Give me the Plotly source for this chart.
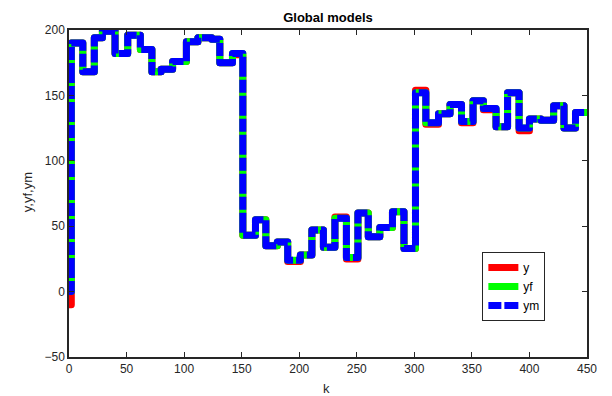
import plotly.graph_objects as go

# Switch instants (k) and levels held from each instant on
k_sw = [0, 2, 12, 22, 29, 40, 51, 62, 72, 80, 90, 102, 112, 124, 131, 142,
        151, 162, 171, 181, 190, 201, 211, 221, 231, 241, 251, 260, 270, 281, 291,
        301, 310, 321, 331, 341, 351, 360, 371, 381, 391, 400, 410, 421, 430, 440, 450]

ym = [0, 190, 168, 194, 199, 182, 196, 185, 168, 170, 176, 191, 194, 193, 175, 182,
      43, 55, 35, 38, 24, 28, 47, 34, 56, 26, 60, 42, 49, 61, 33,
      152, 129, 136, 143, 130, 146, 140, 126, 152, 125, 132, 131, 142, 125, 137, 137]

yf = [0, 190, 168, 194, 199, 182, 196, 185, 168, 170, 176, 191, 194, 193, 175, 182,
      43, 55, 35, 38, 24, 28, 47, 34, 56, 26, 60, 42, 49, 61, 33,
      152, 129, 136, 143, 130, 146, 140, 126, 152, 125, 132, 131, 142, 125, 137, 137]

y_meas = [-10, 190, 168, 194, 199, 182, 196, 185, 168, 170, 176, 191, 194, 193, 175, 181,
          43, 55, 35, 38, 23, 28, 47, 34, 57, 25, 60, 42, 49, 61, 33,
          154, 128, 136, 143, 129, 146, 139, 126, 152, 123, 132, 131, 142, 125, 137, 137]

x_ticks = [0, 50, 100, 150, 200, 250, 300, 350, 400, 450]
y_ticks = [-50, 0, 50, 100, 150, 200]

FONT = "Liberation Sans, Arial, Helvetica, sans-serif"

fig = go.Figure()
fig.add_trace(go.Scatter(x=k_sw, y=y_meas, name="y", mode="lines",
                         line=dict(color="#ff0000", width=7, shape="hv")))
fig.add_trace(go.Scatter(x=k_sw, y=yf, name="yf", mode="lines",
                         line=dict(color="#00ff00", width=7, shape="hv")))
fig.add_trace(go.Scatter(x=k_sw, y=ym, name="ym", mode="lines",
                         line=dict(color="#0000ff", width=7, shape="hv",
                                   dash="13px,3px,20px,3px")))

axis_common = dict(showgrid=False, zeroline=False, showline=True, mirror="allticks",
                   linecolor="#262626", linewidth=1.5, ticks="inside", ticklen=5,
                   tickcolor="#262626", automargin=False,
                   tickfont=dict(family=FONT, size=12, color="#262626"))

fig.update_layout(
    width=612, height=396,
    margin=dict(l=69, r=25, t=30, b=39, autoexpand=False),
    paper_bgcolor="white", plot_bgcolor="white",
    title=dict(text="<b>Global models</b>", x=0.5, xref="paper", y=0.957, yref="container",
               xanchor="center", yanchor="middle", automargin=False,
               font=dict(family=FONT, size=13, color="black")),
    xaxis=dict(range=[0, 450], tickvals=x_ticks, **axis_common),
    yaxis=dict(range=[-50, 200], tickvals=y_ticks, **axis_common),
    legend=dict(x=0.798, y=0.321, xanchor="left", yanchor="top",
                bgcolor="white", bordercolor="#262626", borderwidth=1,
                font=dict(family=FONT, size=12, color="black"),
                tracegroupgap=0, itemwidth=30),
    showlegend=True,
    annotations=[
        dict(text="k", xref="paper", yref="paper", x=0.498, y=-0.095,
             xanchor="center", yanchor="middle", showarrow=False,
             font=dict(family=FONT, size=13, color="#262626")),
        dict(text="y,yf,ym", xref="paper", yref="paper", x=0, y=0.504,
             xanchor="center", yanchor="middle", xshift=-42, showarrow=False,
             textangle=-90, font=dict(family=FONT, size=13, color="#262626")),
    ],
)

post = """
document.body.style.margin = '0';
document.body.style.overflow = 'hidden';
var gd = document.getElementById('{plot_id}');
function roundJoins(){
  gd.querySelectorAll('.scatterlayer path.js-line').forEach(function(p){
    p.style.strokeLinejoin = 'round';
  });
}
roundJoins();
gd.on('plotly_afterplot', roundJoins);
"""

fig.write_html("out.html", post_script=post, config={"displayModeBar": False})
